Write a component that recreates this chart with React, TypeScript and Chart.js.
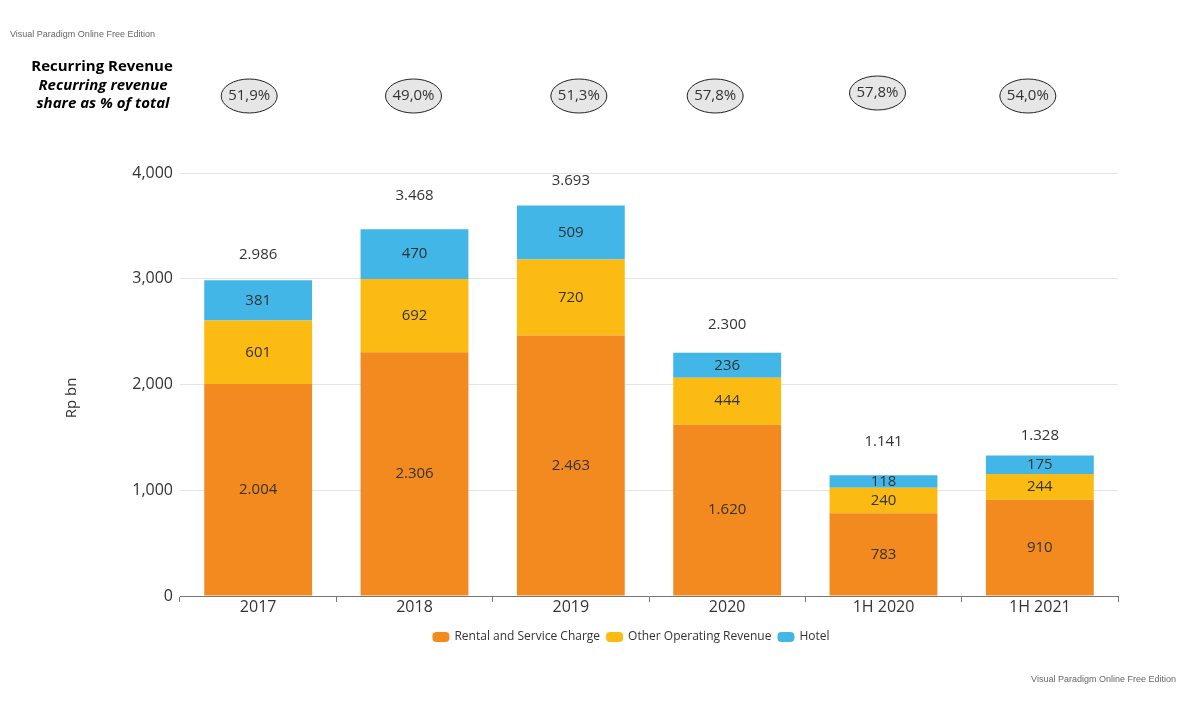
import React, { useEffect, useRef } from "react";
import { Chart, registerables } from "chart.js";

Chart.register(...registerables);

const categories = ["2017", "2018", "2019", "2020", "1H 2020", "1H 2021"];
const rentalValues = [2004, 2306, 2463, 1620, 783, 910];
const otherValues = [601, 692, 720, 444, 240, 244];
const hotelValues = [381, 470, 509, 236, 118, 175];
const totalLabels = [2986, 3468, 3693, 2300, 1141, 1328];
const shareLabels = ["51,9%", "49,0%", "51,3%", "57,8%", "57,8%", "54,0%"];
const seriesNames = ["Rental and Service Charge", "Other Operating Revenue", "Hotel"];
const seriesColors = ["#F38A20", "#FBBB13", "#42B7E7"];
const yMax = 4000;
const yStep = 1000;

// cosmetic nudges (style only)
const badgeNudgeX = [-9, -1, 8, -12, -6, -12];
const badgeNudgeY = [0, 0, 0, 0, -3, 0];
const totalGap = [25, 34, 25, 28, 34, 20];

const FONT = "'Open Sans', sans-serif";
const TEXT = "#333333";

const fmt = (n: number) => String(n).replace(/\B(?=(\d{3})+(?!\d))/g, ".");

const roundRect = (ctx: any, x: number, y: number, w: number, h: number, r: number) => {
  ctx.beginPath();
  ctx.moveTo(x + r, y);
  ctx.lineTo(x + w - r, y);
  ctx.arcTo(x + w, y, x + w, y + r, r);
  ctx.lineTo(x + w, y + h - r);
  ctx.arcTo(x + w, y + h, x + w - r, y + h, r);
  ctx.lineTo(x + r, y + h);
  ctx.arcTo(x, y + h, x, y + h - r, r);
  ctx.lineTo(x, y + r);
  ctx.arcTo(x, y, x + r, y, r);
  ctx.closePath();
};

const overlay = {
  id: "overlay",
  afterDatasetsDraw(chart: any) {
    const ctx = chart.ctx;
    ctx.save();
    ctx.fillStyle = TEXT;
    ctx.textAlign = "center";
    ctx.textBaseline = "middle";
    ctx.font = `15px ${FONT}`;
    chart.data.datasets.forEach((ds: any, di: number) => {
      const meta = chart.getDatasetMeta(di);
      meta.data.forEach((bar: any, i: number) => {
        const cy = (bar.y + bar.base) / 2;
        ctx.fillText(fmt(ds.data[i]), bar.x, cy);
      });
    });
    const top = chart.getDatasetMeta(chart.data.datasets.length - 1);
    const ys = chart.scales.y;
    top.data.forEach((bar: any, i: number) => {
      const yTop = ys.getPixelForValue(
        rentalValues[i] + otherValues[i] + hotelValues[i]
      );
      ctx.fillText(fmt(totalLabels[i]), bar.x, yTop - totalGap[i]);
    });
    ctx.restore();
  },
  afterDraw(chart: any) {
    const ctx = chart.ctx;
    ctx.save();
    // watermarks
    ctx.fillStyle = "#666";
    ctx.font = "9px 'Liberation Sans', Arial, sans-serif";
    ctx.textBaseline = "middle";
    ctx.textAlign = "left";
    ctx.fillText("Visual Paradigm Online Free Edition", 10, 35);
    ctx.textAlign = "right";
    ctx.fillText("Visual Paradigm Online Free Edition", 1176, 680);

    // header
    ctx.fillStyle = "#000";
    ctx.textAlign = "center";
    ctx.font = `bold 15px ${FONT}`;
    ctx.fillText("Recurring Revenue", 102, 67);
    ctx.font = `italic bold 15px ${FONT}`;
    ctx.fillText("Recurring revenue", 103, 86);
    ctx.fillText("share as % of total", 103, 104);

    // badges
    const meta = chart.getDatasetMeta(0);
    meta.data.forEach((bar: any, i: number) => {
      const cx = bar.x + badgeNudgeX[i];
      const cy = 96 + badgeNudgeY[i];
      ctx.beginPath();
      ctx.ellipse(cx, cy, 28, 17, 0, 0, Math.PI * 2);
      ctx.fillStyle = "#e6e6e6";
      ctx.fill();
      ctx.lineWidth = 1;
      ctx.strokeStyle = "#222";
      ctx.stroke();
      ctx.fillStyle = TEXT;
      ctx.font = `15px ${FONT}`;
      ctx.fillText(shareLabels[i], cx, cy);
    });

    // legend
    ctx.font = `12px ${FONT}`;
    ctx.textAlign = "left";
    const boxW = 17, boxH = 10, gapText = 5, gapItem = 6;
    const widths = chart.data.datasets.map((d: any) => boxW + gapText + ctx.measureText(d.label).width);
    const total = widths.reduce((a: number, b: number) => a + b, 0) + gapItem * (widths.length - 1);
    let lx = 631 - total / 2;
    const ly = 637;
    chart.data.datasets.forEach((d: any, i: number) => {
      ctx.fillStyle = d.backgroundColor;
      roundRect(ctx, lx, ly - boxH / 2, boxW, boxH, 4);
      ctx.fill();
      ctx.fillStyle = TEXT;
      ctx.fillText(d.label, lx + boxW + gapText, ly);
      lx += widths[i] + gapItem;
    });

    // y title
    ctx.textAlign = "center";
    ctx.translate(72, 398);
    ctx.rotate(-Math.PI / 2);
    ctx.fillStyle = TEXT;
    ctx.font = `15px ${FONT}`;
    ctx.fillText("Rp bn", 0, 0);
    ctx.restore();
  },
};

export default function App() {
  const ref = useRef<HTMLCanvasElement | null>(null);
  useEffect(() => {
    if (!ref.current) return;
    Chart.defaults.font.family = FONT;
    Chart.defaults.color = TEXT;
    const chart = new Chart(ref.current, {
      type: "bar",
      data: {
        labels: categories,
        datasets: [
          { label: seriesNames[0], data: rentalValues, backgroundColor: seriesColors[0] },
          { label: seriesNames[1], data: otherValues, backgroundColor: seriesColors[1] },
          { label: seriesNames[2], data: hotelValues, backgroundColor: seriesColors[2] },
        ],
      },
      options: {
        responsive: false,
        animation: false,
        layout: { padding: { left: 0, right: 82, top: 173, bottom: 99 } },
        datasets: { bar: { barPercentage: 0.69, categoryPercentage: 1 } },
        plugins: {
          legend: { display: false },
          tooltip: { enabled: false },
        },
        scales: {
          x: {
            stacked: true,
            grid: {
              drawOnChartArea: false,
              drawTicks: true,
              tickLength: 6,
              color: "#777",
            },
            border: { color: "#777" },
            ticks: { padding: -4, font: { size: 16, family: FONT }, color: TEXT },
            afterFit: (s: any) => {
              s.height = 25;
            },
          },
          y: {
            stacked: true,
            min: 0,
            max: yMax,
            ticks: {
              stepSize: yStep,
              padding: 7,
              font: { size: 16, family: FONT },
              color: TEXT,
            },
            grid: { color: "#e4e4e4", drawTicks: false },
            border: { display: false },
            afterFit: (s: any) => {
              s.width = 180;
            },
          },
        },
      },
      plugins: [overlay],
    });
    return () => chart.destroy();
  }, []);
  return (
    <div style={{ position: "absolute", left: 0, top: 0, width: 1200, height: 720, background: "#fff" }}>
      <canvas ref={ref} width={1200} height={720} style={{ display: "block" }} />
    </div>
  );
}
